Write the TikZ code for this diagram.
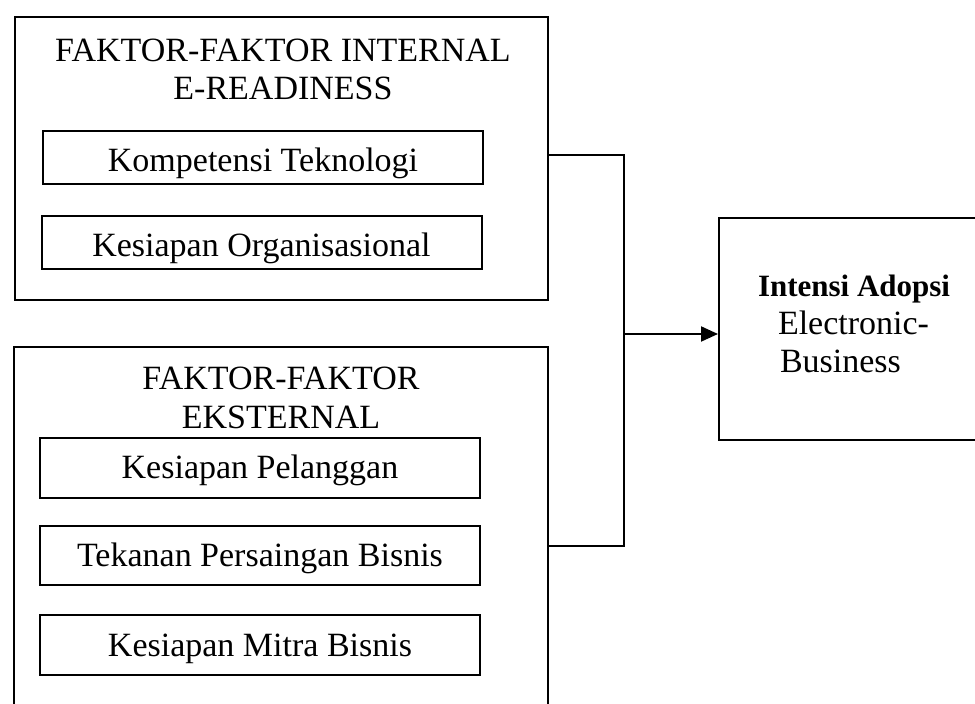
\documentclass[tikz,border=0pt]{standalone}
\usepackage{fontspec}
\setmainfont{Liberation Serif}
\usetikzlibrary{arrows.meta}

\tikzset{groupbox/.style={draw,line width=1pt,inner sep=0pt},
	factorbox/.style={draw,line width=1pt,minimum width=220pt,inner sep=0pt,text depth=0pt,font=\fontsize{17}{19}\selectfont},
	heading/.style={align=center,inner sep=0pt,font=\fontsize{17}{19}\selectfont}}

\begin{document}
\begin{tikzpicture}[x=0.5pt,y=-0.5pt,line width=1pt]
	\clip (0,0) rectangle (975,704);
	\fill[white] (0,0) rectangle (975,704);

	% internal group
	\node[groupbox,minimum width=266.5pt,minimum height=141.5pt](internal) at (281.5,158.5){};
	\node[heading](internal-title) at (283,69){FAKTOR-FAKTOR INTERNAL\\E-READINESS};
	\node[factorbox,minimum height=26.5pt,text height=14.5pt](kompetensi) at (263,157.5){Kompetensi Teknologi};
	\node[factorbox,minimum height=26.5pt,text height=14.5pt](organisasi) at (261.5,242.5){Kesiapan Organisasional};

	% external group, open at the bottom of the page
	\node[groupbox,minimum width=267pt,minimum height=206.5pt](external) at (281,553.5){};
	\node[heading,font=\fontsize{17}{19.5}\selectfont](external-title) at (281,397.5){FAKTOR-FAKTOR\\EKSTERNAL};
	\node[factorbox,minimum height=30pt,text height=11pt](pelanggan) at (260,468){Kesiapan Pelanggan};
	\node[factorbox,minimum height=29.5pt,text height=11.5pt](persaingan) at (260,555.5){Tekanan Persaingan Bisnis};
	\node[factorbox,minimum height=30pt,text height=12pt](mitra) at (260,645){Kesiapan Mitra Bisnis};

	% outcome
	\node[groupbox,minimum width=140.5pt,minimum height=111pt](intensi) at (859.5,329){};
	\node[align=left,anchor=west,inner sep=0pt,font=\fontsize{17}{19}\selectfont](intensi-text) at (757,323.5)
		{{\fontsize{15.5}{19}\selectfont\bfseries Intensi Adopsi}\\\hspace*{10pt}Electronic-\\\hspace*{11pt}Business};

	\coordinate (join-top) at (624,155);
	\coordinate (join-mid) at (624,334);
	\coordinate (join-bottom) at (624,546);
	\draw (join-top-|internal.east) -- (join-top) -- (join-bottom) -- (join-bottom-|external.east);
	\draw[-{Triangle[length=8.5pt,width=7.5pt]}] (join-mid) -- (join-mid-|intensi.west);

\end{tikzpicture}
\end{document}
